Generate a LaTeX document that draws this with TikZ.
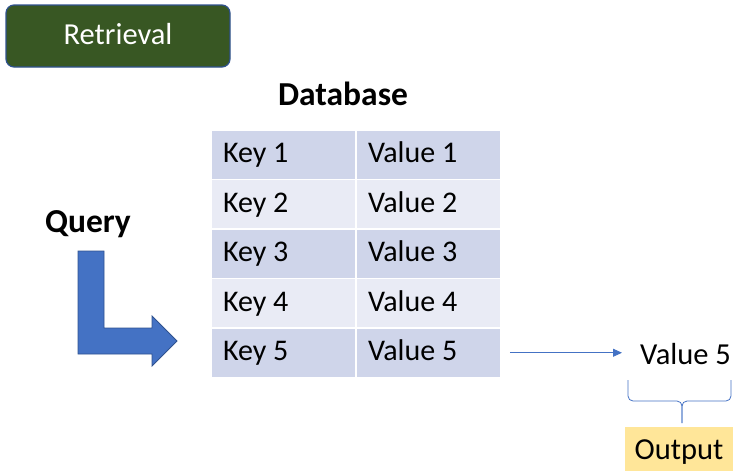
\documentclass[tikz,border=0pt]{standalone}
\usepackage{fontspec}
\setmainfont{Carlito}
\usetikzlibrary{arrows.meta,positioning}
\definecolor{rowdark}{HTML}{CFD5EA}
\definecolor{rowlight}{HTML}{E9EBF5}
\definecolor{arrowblue}{HTML}{4472C4}
\definecolor{edgeblue}{HTML}{2F528F}
\definecolor{boxgreen}{HTML}{385723}
\definecolor{outyellow}{HTML}{FFE699}
\newcommand{\celltext}[1]{\makebox[121pt][l]{#1}}
\tikzset{dbcell/.style={draw=white,line width=1.5pt,minimum height=49.5pt,inner xsep=12pt,text height=21pt,text depth=5pt,font=\fontsize{30}{36}\selectfont},
         dark/.style={dbcell,fill=rowdark},
         light/.style={dbcell,fill=rowlight},
         title/.style={anchor=base,inner sep=0pt,font=\fontsize{33.5}{40}\selectfont\bfseries},
         plain/.style={inner sep=0pt,text height=21pt,text depth=5pt,font=\fontsize{30.5}{36}\selectfont}}

\begin{document}
\begin{tikzpicture}[x=1pt,y=-1pt]
    \useasboundingbox (0,0) rectangle (734,471);
            \node (retr) [draw=edgeblue,line width=1.2pt,rounded corners=8pt,fill=boxgreen,text=white] [minimum width=224pt,minimum height=62pt] [plain] at (118,36) {Retrieval};
            \node (db)    [title] at (343,105) {Database};
            \node (query) [title] at (88,232)  {Query};

            \node (k1) [dark]  at (283.5,154.75) {\celltext{Key 1}};
            \node (v1) [dark]  at (428.5,154.75) {\celltext{Value 1}};
            \node (k2) [light] at (283.5,204.25) {\celltext{Key 2}};
            \node (v2) [light] at (428.5,204.25) {\celltext{Value 2}};
            \node (k3) [dark]  at (283.5,253.75) {\celltext{Key 3}};
            \node (v3) [dark]  at (428.5,253.75) {\celltext{Value 3}};
            \node (k4) [light] at (283.5,303.25) {\celltext{Key 4}};
            \node (v4) [light] at (428.5,303.25) {\celltext{Value 4}};
            \node (k5) [dark]  at (283.5,352.75) {\celltext{Key 5}};
            \node (v5) [dark]  at (428.5,352.75) {\celltext{Value 5}};

            \draw [fill=arrowblue,draw=edgeblue,line width=0.8pt] (78,251) -- (104,251) -- (104,328) -- (152,328) -- (152,316) -- (177,341) -- (152,366) -- (152,354) -- (78,354) -- cycle;

            \node (res) [plain,anchor=base west,text height=,text depth=] at (640,364) {Value 5};
            \draw [arrowblue,line width=0.8pt,-{Triangle[length=9pt,width=8pt]},shorten <=8pt,shorten >=18pt] (v5.east) -- (v5.east -| res.west);

            \coordinate (bl)  at (628,380);
            \coordinate (br)  at (731,380);
            \coordinate (tip) at (682,423);
            \draw [arrowblue,line width=0.8pt,rounded corners=5pt] (bl) |- (tip |- 0,401) -- (tip);
            \draw [arrowblue,line width=0.8pt,rounded corners=5pt] (br) |- (tip |- 0,401) -- (tip);

            \node (out) [fill=outyellow,minimum width=108pt,minimum height=49pt] [plain] at (679,451) {Output};
        \end{tikzpicture}
\end{document}
